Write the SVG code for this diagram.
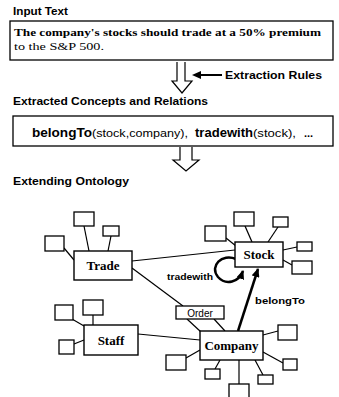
<svg xmlns="http://www.w3.org/2000/svg" width="339" height="397" viewBox="0 0 339 397">
<style>
.hd{font-family:"Liberation Sans",Arial,sans-serif;font-weight:bold;font-size:10px;fill:#000}
.box{fill:#fff;stroke:#000;stroke-width:1.4}
.sm{fill:#fff;stroke:#000;stroke-width:1.3}
.ln{stroke:#000;stroke-width:1.2;fill:none}
.nt{font-family:"Liberation Serif","Times New Roman",serif;font-weight:bold;font-size:13px;text-anchor:middle;fill:#000}
.lb{font-family:"Liberation Sans",Arial,sans-serif;font-weight:bold;font-size:9.5px;fill:#000}
.hol{fill:#fff;stroke:#000;stroke-width:1.2}
</style>
<defs>
<marker id="ah" markerWidth="9" markerHeight="8" refX="8" refY="4" orient="auto" markerUnits="userSpaceOnUse">
<path d="M0,0 L9,4 L0,8 Z" fill="#000"/>
</marker>
</defs>
<rect width="339" height="397" fill="#fff"/>

<g id="input">
<text class="hd" x="13" y="15" textLength="55" lengthAdjust="spacingAndGlyphs">Input Text</text>
<rect x="10" y="21" width="323" height="39" fill="#fff" stroke="#000" stroke-width="1.3"/>
<text x="14" y="36" font-family="'Liberation Serif','Times New Roman',serif" font-weight="bold" font-size="11" textLength="307" lengthAdjust="spacingAndGlyphs">The company's stocks should trade at a 50% premium</text>
<text x="14" y="50" font-family="'Liberation Serif','Times New Roman',serif" font-size="11" textLength="90" lengthAdjust="spacingAndGlyphs">to the S&amp;P 500.</text>
</g>

<g id="arrow1">
<path class="hol" d="M177,62 L177,81 L172,81 L182,93 L192,81 L185,81 L185,62"/>
<path d="M192,75 L201,71 L201,79 Z" fill="#000"/>
<line x1="200" y1="75" x2="222" y2="75" stroke="#000" stroke-width="2"/>
<text class="hd" x="225" y="78.5" textLength="97" lengthAdjust="spacingAndGlyphs">Extraction Rules</text>
</g>

<g id="concepts">
<text class="hd" x="13" y="105" textLength="195" lengthAdjust="spacingAndGlyphs">Extracted Concepts and Relations</text>
<rect x="13" y="116" width="320" height="30" fill="#fff" stroke="#000" stroke-width="1.3"/>
<text y="137" font-family="'Liberation Sans',Arial,sans-serif" fill="#000">
<tspan x="32" font-weight="bold" font-size="12" textLength="60" lengthAdjust="spacingAndGlyphs">belongTo</tspan>
<tspan x="92" font-size="10" textLength="96" lengthAdjust="spacingAndGlyphs">(stock,company),</tspan>
<tspan x="195" font-weight="bold" font-size="12" textLength="58" lengthAdjust="spacingAndGlyphs">tradewith</tspan>
<tspan x="253" font-size="10" textLength="43" lengthAdjust="spacingAndGlyphs">(stock),</tspan>
<tspan x="304" font-weight="bold" font-size="11">...</tspan>
</text>
</g>

<g id="arrow2">
<path class="hol" d="M180,147 L180,160 L173,160 L186,171 L199,160 L192,160 L192,147"/>
</g>

<text class="hd" x="13" y="185" textLength="116" lengthAdjust="spacingAndGlyphs">Extending Ontology</text>

<g id="connectors">
<line class="ln" x1="132" y1="261" x2="235" y2="250"/>
<line class="ln" x1="132" y1="268" x2="183" y2="306"/>
<line class="ln" x1="187" y1="319" x2="201" y2="332"/>
<line class="ln" x1="214" y1="319" x2="225" y2="331"/>
<line class="ln" x1="138" y1="334" x2="200" y2="340"/>
<line class="ln" x1="84" y1="226" x2="89" y2="251"/>
<line class="ln" x1="111" y1="236" x2="108" y2="251"/>
<line class="ln" x1="64" y1="248" x2="74" y2="260"/>
<line class="ln" x1="226" y1="238" x2="236" y2="246"/>
<line class="ln" x1="245" y1="226" x2="252" y2="242"/>
<line class="ln" x1="278" y1="227" x2="268" y2="242"/>
<line class="ln" x1="297" y1="247" x2="283" y2="250"/>
<line class="ln" x1="292" y1="265" x2="283" y2="260"/>
<line class="ln" x1="72" y1="319" x2="84" y2="326"/>
<line class="ln" x1="93" y1="315" x2="93" y2="325"/>
<line class="ln" x1="74" y1="344" x2="84" y2="340"/>
<line class="ln" x1="263" y1="335" x2="278" y2="331"/>
<line class="ln" x1="263" y1="352" x2="283" y2="363"/>
<line class="ln" x1="200" y1="350" x2="186" y2="358"/>
<line class="ln" x1="220" y1="360" x2="215" y2="369"/>
<line class="ln" x1="239" y1="360" x2="239" y2="384"/>
<line class="ln" x1="255" y1="360" x2="263" y2="375"/>
<line x1="238" y1="331" x2="258" y2="269" stroke="#000" stroke-width="2.5" marker-end="url(#ah)"/>
<path d="M236,259 C222,253 209,266 218,277 C226,286 239,282 243,271" fill="none" stroke="#000" stroke-width="2.5" marker-end="url(#ah)"/>
<text class="lb" x="167" y="280" textLength="46" lengthAdjust="spacingAndGlyphs">tradewith</text>
<text class="lb" x="255" y="304" textLength="50" lengthAdjust="spacingAndGlyphs">belongTo</text>
</g>

<g id="trade">
<rect class="box" x="74" y="251" width="58" height="29"/>
<text class="nt" x="103" y="270">Trade</text>
<rect class="sm" x="74" y="212" width="20" height="14"/>
<rect class="sm" x="103" y="226" width="16" height="10"/>
<rect class="sm" x="45" y="236" width="19" height="15"/>
</g>

<g id="stock">
<rect class="box" x="235" y="242" width="48" height="25"/>
<text class="nt" x="259" y="259">Stock</text>
<rect class="sm" x="205" y="226" width="21" height="15"/>
<rect class="sm" x="234" y="212" width="20" height="14"/>
<rect class="sm" x="273" y="217" width="15" height="10"/>
<rect class="sm" x="297" y="242" width="15" height="9"/>
<rect class="sm" x="292" y="261" width="20" height="13"/>
</g>

<g id="order">
<rect class="sm" x="176" y="306" width="48" height="13"/>
<text x="200" y="316.5" font-family="'Liberation Sans',Arial,sans-serif" font-size="10" text-anchor="middle">Order</text>
</g>

<g id="staff">
<rect class="box" x="84" y="325" width="54" height="30"/>
<text class="nt" x="111" y="344.5">Staff</text>
<rect class="sm" x="55" y="305" width="18" height="15"/>
<rect class="sm" x="83" y="300" width="20" height="15"/>
<rect class="sm" x="59" y="340" width="15" height="14"/>
</g>

<g id="company">
<rect class="box" x="200" y="331" width="63" height="29"/>
<text class="nt" x="231.5" y="350">Company</text>
<rect class="sm" x="278" y="325" width="19" height="15"/>
<rect class="sm" x="283" y="359" width="14" height="11"/>
<rect class="sm" x="166" y="355" width="20" height="15"/>
<rect class="sm" x="205" y="369" width="15" height="10"/>
<rect class="sm" x="258" y="375" width="15" height="9"/>
<rect class="sm" x="229" y="384" width="20" height="15"/>
</g>
</svg>
